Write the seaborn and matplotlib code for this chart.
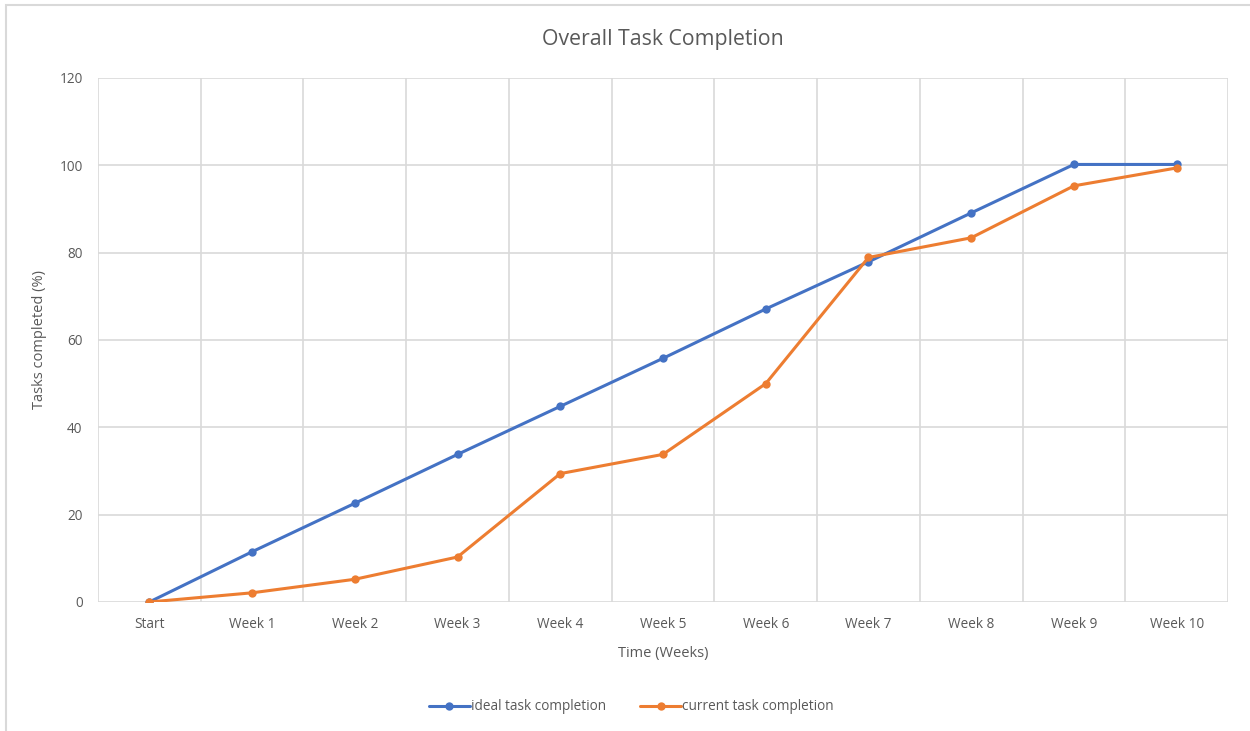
import numpy as np
import pandas as pd
import matplotlib
matplotlib.use("Agg")
import matplotlib.pyplot as plt
from matplotlib.patches import Rectangle
import seaborn as sns

weeks = ['Start', 'Week 1', 'Week 2', 'Week 3', 'Week 4', 'Week 5',
         'Week 6', 'Week 7', 'Week 8', 'Week 9', 'Week 10']
ideal = [0, 11.5, 22.6, 33.8, 44.8, 55.8, 67.1, 77.9, 89.1, 100.2, 100.2]
current = [0, 2.1, 5.2, 10.3, 29.4, 33.8, 50.0, 78.9, 83.4, 95.3, 99.4]
series_names = ['ideal task completion', 'current task completion']
colors = ['#4472C4', '#ED7D31']

df = pd.DataFrame({
    'week': weeks * 2,
    'pos': list(range(len(weeks))) * 2,
    'value': ideal + current,
    'series': [series_names[0]] * len(weeks) + [series_names[1]] * len(weeks),
})

sns.set_theme(style='white')
plt.rcParams['font.family'] = ['Open Sans', 'DejaVu Sans']
text_color = '#595959'
grid_color = '#D9D9D9'

fig = plt.figure(figsize=(12.5, 7.31), dpi=100)
ax = fig.add_axes([0.0784, 0.1765, 0.904, 0.7168])

sns.lineplot(data=df, x='pos', y='value', hue='series', palette=colors,
             marker='o', markersize=6, markeredgewidth=0, linewidth=2.2,
             ax=ax, legend=True)

ax.set_xlim(-0.5, len(weeks) - 0.5)
ax.set_ylim(0, 120)
ax.set_yticks(np.arange(0, 121, 20))
ax.set_xticks(range(len(weeks)))
ax.set_xticklabels(weeks)
ax.set_xticks(np.arange(-0.5, len(weeks), 1), minor=True)
ax.grid(False)
ax.grid(True, which='minor', axis='x', color=grid_color, linewidth=1.2)
ax.grid(True, which='major', axis='y', color=grid_color, linewidth=1.2)
ax.set_axisbelow(True)
for side in ['left', 'top', 'right', 'bottom']:
    ax.spines[side].set_visible(False)
ax.tick_params(axis='both', which='both', length=0, labelsize=9.8,
               colors=text_color)
ax.tick_params(axis='x', pad=11)
ax.tick_params(axis='y', pad=11)

ax.set_xlabel('Time (Weeks)', fontsize=10.5, color=text_color, labelpad=10)
ax.set_ylabel('Tasks completed (%)', fontsize=10.5, color=text_color, labelpad=9)
ax.set_title('Overall Task Completion', fontsize=15.3, color=text_color, pad=24)

handles, labels = ax.get_legend_handles_labels()
leg = ax.legend(handles, labels, loc='center', bbox_to_anchor=(0.472, -0.2),
                ncol=2, frameon=False, fontsize=9.8, handlelength=3,
                columnspacing=2.5, handletextpad=0.1)
for t in leg.get_texts():
    t.set_color(text_color)

fig.add_artist(Rectangle((6 / 1250, -0.05), 1.1, 1.05 - 5 / 731,
                         transform=fig.transFigure, fill=False,
                         edgecolor='#D9D9D9', linewidth=1.5))

fig.savefig('out.png', dpi=100)
